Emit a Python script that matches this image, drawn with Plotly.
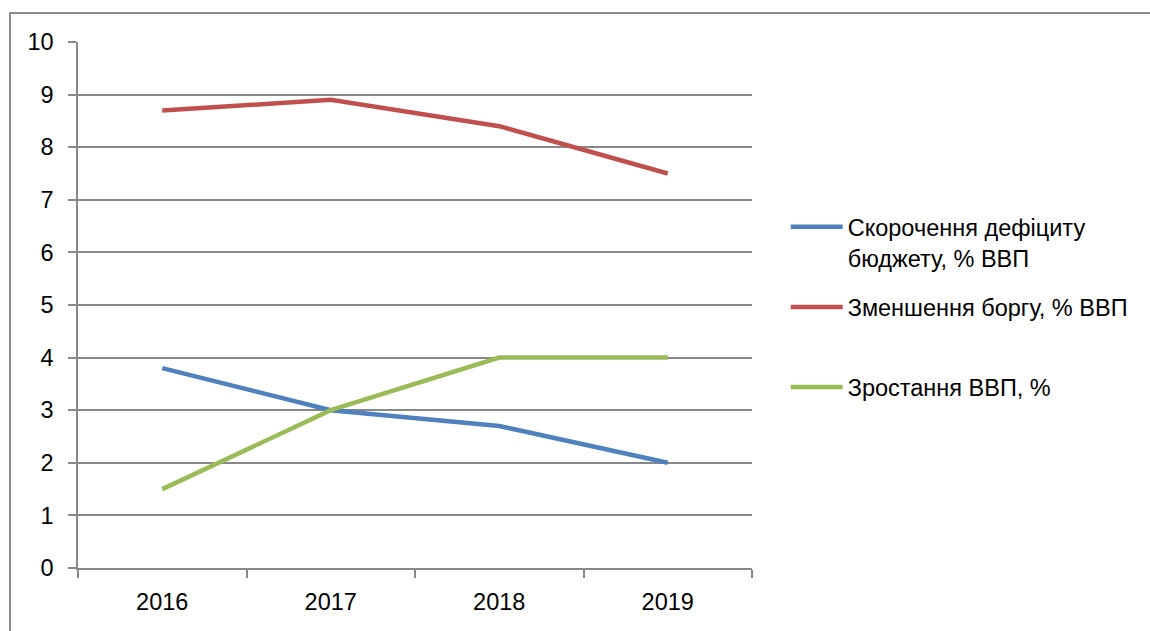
import plotly.graph_objects as go

years = ["2016", "2017", "2018", "2019"]
deficit_cut = [3.8, 3.0, 2.7, 2.0]
debt_cut = [8.7, 8.9, 8.4, 7.5]
gdp_growth = [1.5, 3.0, 4.0, 4.0]

series_names = [
    "Скорочення дефіциту<br>бюджету, % ВВП",
    "Зменшення боргу, % ВВП<br> ",
    "Зростання ВВП, %<br> ",
]
series_colors = ["#4F81BD", "#C0504D", "#9BBB59"]
series_values = [deficit_cut, debt_cut, gdp_growth]

FONT = "Liberation Sans"
GRID = "#888888"
FS = 23.5

fig = go.Figure()
for name, color, vals in zip(series_names, series_colors, series_values):
    fig.add_trace(go.Scatter(
        x=years, y=vals, name=name, mode="lines",
        line=dict(color=color, width=4.5),
        legendgroup=name,
    ))

fig.update_layout(
    width=1150, height=631,
    margin=dict(l=78, r=398, t=42, b=63),
    paper_bgcolor="white", plot_bgcolor="white",
    font=dict(family=FONT, size=FS, color="black"),
    showlegend=True,
    legend=dict(
        x=1.05, xanchor="left", y=0.69, yanchor="top",
        valign="top", tracegroupgap=16, itemwidth=52,
        font=dict(family=FONT, size=FS, color="black"),
        bgcolor="rgba(0,0,0,0)",
    ),
    xaxis=dict(
        type="category", range=[-0.5, 3.5],
        tickson="boundaries", ticks="outside", ticklen=8, tickwidth=1.5,
        tickcolor=GRID, showline=True, linecolor=GRID, linewidth=1.5,
        showgrid=False, zeroline=False, ticklabelstandoff=12,
        tickfont=dict(family=FONT, size=FS, color="black"),
    ),
    yaxis=dict(
        range=[0, 10], dtick=1, tick0=0,
        ticks="outside", ticklen=8, tickwidth=1.5, tickcolor=GRID,
        showline=True, linecolor=GRID, linewidth=1.5,
        showgrid=True, gridcolor=GRID, gridwidth=1.5, zeroline=False,
        ticklabelstandoff=10,
        tickfont=dict(family=FONT, size=FS, color="black"),
    ),
)

# chart frame
fig.add_shape(
    type="rect", xref="paper", yref="paper",
    x0=-0.1009, x1=1.65, y0=-0.15, y1=1.0551,
    line=dict(color="#8c8c8c", width=2), fillcolor="rgba(0,0,0,0)",
    layer="below",
)

fig.write_html("out.html")
